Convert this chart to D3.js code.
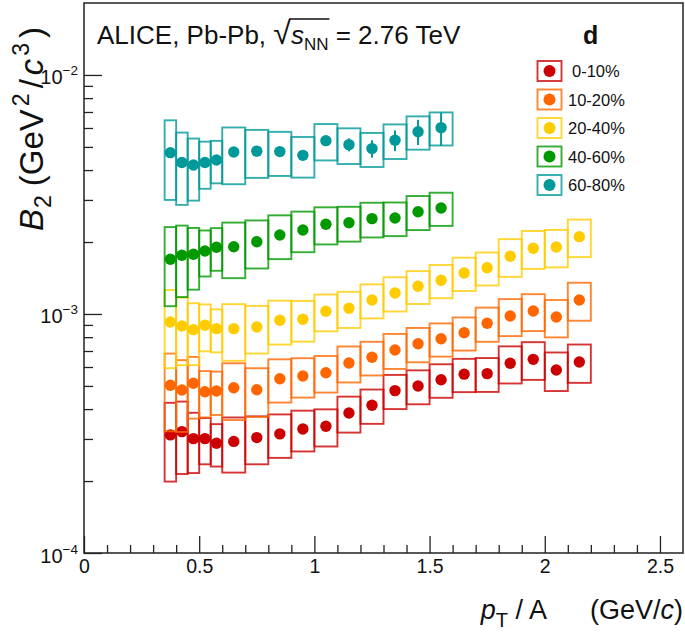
<!DOCTYPE html>
<html><head><meta charset="utf-8">
<script src="https://cdn.jsdelivr.net/npm/d3@7"></script>
<style>
html,body{margin:0;padding:0;background:#fff;}
text{font-family:"Liberation Sans",Arial,Helvetica,sans-serif;}
</style></head>
<body><svg id="c" width="685" height="637"></svg>
<script>
// ---- data ----
const ptEdges = [0.35,0.40,0.45,0.50,0.55,0.60,0.70,0.80,0.90,1.00,1.10,1.20,1.30,1.40,1.50,1.60,1.70,1.80,1.90,2.00,2.10,2.20];
const centralities = ["0-10%","10-20%","20-40%","40-60%","60-80%"];
const colors = ["#cc0000","#ff6600","#ffcc00","#009900","#009999"];
// B2 values (GeV^2/c^3)
const b2_0_10  = [3.12,3.22,3.01,3.01,2.88,2.93,3.04,3.15,3.30,3.39,3.85,4.15,4.78,5.00,5.31,5.60,5.63,6.22,6.46,5.83,6.30].map(v=>v*1e-4);
const sys_0_10 = [1.13,1.08,0.85,0.66,0.58,0.76,0.69,0.65,0.64,0.60,0.66,0.68,0.78,0.81,0.85,0.89,0.91,1.10,1.16,1.07,1.15].map(v=>v*1e-4);
const b2_10_20  = [0.503,0.481,0.513,0.473,0.476,0.491,0.482,0.536,0.550,0.568,0.624,0.659,0.707,0.751,0.788,0.835,0.914,0.981,1.029,0.971,1.144].map(v=>v*1e-3);
const sys_10_20 = [0.180,0.160,0.148,0.104,0.098,0.131,0.111,0.110,0.103,0.099,0.107,0.106,0.118,0.123,0.125,0.132,0.149,0.173,0.181,0.173,0.207].map(v=>v*1e-3);
const b2_20_40  = [0.926,0.891,0.860,0.897,0.868,0.868,0.882,0.941,0.950,1.026,1.056,1.144,1.224,1.306,1.384,1.484,1.562,1.743,1.884,1.907,2.106].map(v=>v*1e-3);
const sys_20_40 = [0.333,0.280,0.249,0.199,0.177,0.231,0.199,0.196,0.184,0.180,0.182,0.186,0.200,0.205,0.220,0.236,0.246,0.313,0.340,0.340,0.377].map(v=>v*1e-3);
const b2_40_60  = [1.694,1.760,1.777,1.835,1.901,1.912,2.006,2.141,2.247,2.374,2.408,2.505,2.522,2.679,2.776].map(v=>v*1e-3);
const sys_40_60 = [0.616,0.583,0.513,0.400,0.385,0.500,0.456,0.445,0.434,0.420,0.400,0.415,0.405,0.435,0.440].map(v=>v*1e-3);
const b2_60_80  = [4.73,4.30,4.20,4.30,4.41,4.76,4.80,4.78,4.61,5.31,5.11,4.92,5.33,5.79,6.02].map(v=>v*1e-3);
const sys_60_80 = [1.73,1.44,1.22,0.96,0.89,1.27,1.09,1.00,0.89,0.92,0.87,0.80,0.88,0.92,0.95].map(v=>v*1e-3);
const stat_60_80 = [0.10,0.10,0.10,0.10,0.10,0.10,0.11,0.12,0.14,0.20,0.32,0.41,0.53,0.70,0.97].map(v=>v*1e-3);
const xTicksMajor = [0,0.5,1,1.5,2,2.5];
const yTicksMajor = [1e-4,1e-3,1e-2];
const yTickExp = ["−4","−3","−2"];

const series = [
  {name:centralities[0], color:colors[0], val:b2_0_10, sys:sys_0_10, stat:null},
  {name:centralities[1], color:colors[1], val:b2_10_20, sys:sys_10_20, stat:null},
  {name:centralities[2], color:colors[2], val:b2_20_40, sys:sys_20_40, stat:null},
  {name:centralities[3], color:colors[3], val:b2_40_60, sys:sys_40_60, stat:null},
  {name:centralities[4], color:colors[4], val:b2_60_80, sys:sys_60_80, stat:stat_60_80}
];

// ---- layout ----
const L=84, R=683, T=3, B=553;
const svg = d3.select("#c");
const x = d3.scaleLinear().domain([0,2.6]).range([L,R]);
const y = d3.scaleLog().domain([1e-4,2e-2]).range([B,T]);

// data
series.forEach(s=>{
  const g = svg.append("g");
  const pts = s.val.map((v,i)=>({v, sys:s.sys[i], stat:s.stat?s.stat[i]:0, lo:ptEdges[i], hi:ptEdges[i+1], c:(ptEdges[i]+ptEdges[i+1])/2}));
  g.selectAll("rect.box").data(pts).enter().append("rect")
    .attr("x",d=>x(d.lo)).attr("width",d=>x(d.hi)-x(d.lo))
    .attr("y",d=>y(d.v+d.sys)).attr("height",d=>y(d.v-d.sys)-y(d.v+d.sys))
    .attr("fill","none").attr("stroke",s.color).attr("stroke-width",1.9).attr("stroke-opacity",0.8);
  g.selectAll("line.err").data(pts.filter(d=>d.stat>0)).enter().append("line")
    .attr("x1",d=>x(d.c)).attr("x2",d=>x(d.c))
    .attr("y1",d=>y(d.v+d.stat)).attr("y2",d=>y(d.v-d.stat))
    .attr("stroke",s.color).attr("stroke-width",2);
  g.selectAll("circle").data(pts).enter().append("circle")
    .attr("cx",d=>x(d.c)).attr("cy",d=>y(d.v)).attr("r",5.7).attr("fill",s.color);
});

// frame
svg.append("rect").attr("x",L).attr("y",T).attr("width",R-L).attr("height",B-T)
  .attr("fill","none").attr("stroke","#222").attr("stroke-width",1.5);

// x axis
const xMinor = d3.range(0,26).map(i=>i/10).filter(v=>xTicksMajor.indexOf(v)<0);
const gx = svg.append("g").attr("transform",`translate(0,${B})`);
gx.call(d3.axisBottom(x).tickValues(xMinor).tickSize(-8).tickFormat(""));
const gxM = svg.append("g").attr("transform",`translate(0,${B})`);
gxM.call(d3.axisBottom(x).tickValues(xTicksMajor).tickSize(-17).tickPadding(6).tickFormat(d3.format("")));
[gx,gxM].forEach(g=>{g.select(".domain").remove(); g.selectAll("line").attr("stroke","#222").attr("stroke-width",1.3);});
gxM.selectAll("text").attr("font-size",19.5).attr("fill","#111").attr("font-family","Liberation Sans, Arial, sans-serif");

// y axis
const yMinor = [];
[1e-4,1e-3,1e-2].forEach(d=>{for(let k=2;k<=9;k++){const v=k*d; if(v<2e-2*0.999) yMinor.push(v);}});
const gy = svg.append("g").attr("transform",`translate(${L},0)`);
gy.call(d3.axisLeft(y).tickValues(yMinor).tickSize(-9).tickFormat(""));
const gyM = svg.append("g").attr("transform",`translate(${L},0)`);
gyM.call(d3.axisLeft(y).tickValues(yTicksMajor).tickSize(-18).tickPadding(6).tickFormat(""));
[gy,gyM].forEach(g=>{g.select(".domain").remove(); g.selectAll("line").attr("stroke","#222").attr("stroke-width",1.3);});
gyM.selectAll(".tick text").each(function(d,i){
  const t = d3.select(this).attr("font-size",20).attr("fill","#111").attr("dy",null).attr("y",9)
    .attr("font-family","Liberation Sans, Arial, sans-serif");
  t.append("tspan").text("10");
  t.append("tspan").attr("font-size",13.5).attr("dy",-9).text(yTickExp[i]);
});

// axis titles
const yl = svg.append("text").attr("transform","translate(43,231) rotate(-90)")
  .attr("text-anchor","start").attr("font-size",33).attr("fill","#111");
yl.append("tspan").attr("font-style","italic").text("B");
yl.append("tspan").attr("font-size",23).attr("dy",8).attr("dx",1).text("2");
yl.append("tspan").attr("dy",-8).attr("dx",9).text("(GeV");
yl.append("tspan").attr("font-size",23).attr("dy",-14).attr("dx",3).text("2");
yl.append("tspan").attr("dy",14).attr("dx",5).text("/");
yl.append("tspan").attr("dx",4).attr("font-style","italic").text("c");
yl.append("tspan").attr("font-size",23).attr("dy",-14).attr("dx",3).text("3");
yl.append("tspan").attr("dy",14).attr("dx",5).text(")");

const xl = svg.append("text").attr("x",R).attr("y",619).attr("text-anchor","end")
  .attr("font-size",27).attr("fill","#111").style("white-space","pre");
xl.append("tspan").attr("font-style","italic").text("p");
xl.append("tspan").attr("font-size",20).attr("dy",8).text("T");
xl.append("tspan").attr("dy",-8).text(" / A");
xl.append("tspan").attr("dx",43).text("(GeV/");
xl.append("tspan").attr("font-style","italic").text("c");
xl.append("tspan").text(")");

// title
const tt = svg.append("text").attr("x",97).attr("y",44).attr("font-size",26).attr("fill","#111").style("white-space","pre");
tt.append("tspan").text("ALICE, Pb-Pb, ");
tt.append("tspan").attr("font-size",32).text("√");
tt.append("tspan").attr("font-style","italic").text("s");
tt.append("tspan").attr("font-size",17).attr("dy",6).text("NN");
tt.append("tspan").attr("dy",-6).text(" = 2.76 TeV");
{
  const node = tt.node();
  const s0 = "ALICE, Pb-Pb, ".length;
  const eR = node.getExtentOfChar(s0);
  const eN = node.getExtentOfChar(s0+3);
  svg.append("line").attr("x1",eR.x+eR.width-1.5).attr("x2",eN.x+eN.width+1)
    .attr("y1",eR.y+4).attr("y2",eR.y+4).attr("stroke","#111").attr("stroke-width",1.5);
}
svg.append("text").attr("x",583).attr("y",44).attr("font-size",25).attr("font-weight","bold").attr("fill","#111").text("d");

// legend
const lg = svg.append("g");
const rowY = d3.scalePoint().domain(centralities).range([71,185]);
series.forEach(s=>{
  const cy = rowY(s.name);
  lg.append("rect").attr("x",537.5).attr("y",cy-10).attr("width",24).attr("height",20)
    .attr("fill","none").attr("stroke",s.color).attr("stroke-width",1.9).attr("stroke-opacity",0.8);
  lg.append("circle").attr("cx",549.5).attr("cy",cy).attr("r",6).attr("fill",s.color);
  lg.append("text").attr("x",s.name.length<6?572:568).attr("y",cy+6).attr("font-size",16.5).attr("fill","#111").text(s.name);
});
</script></body></html>
